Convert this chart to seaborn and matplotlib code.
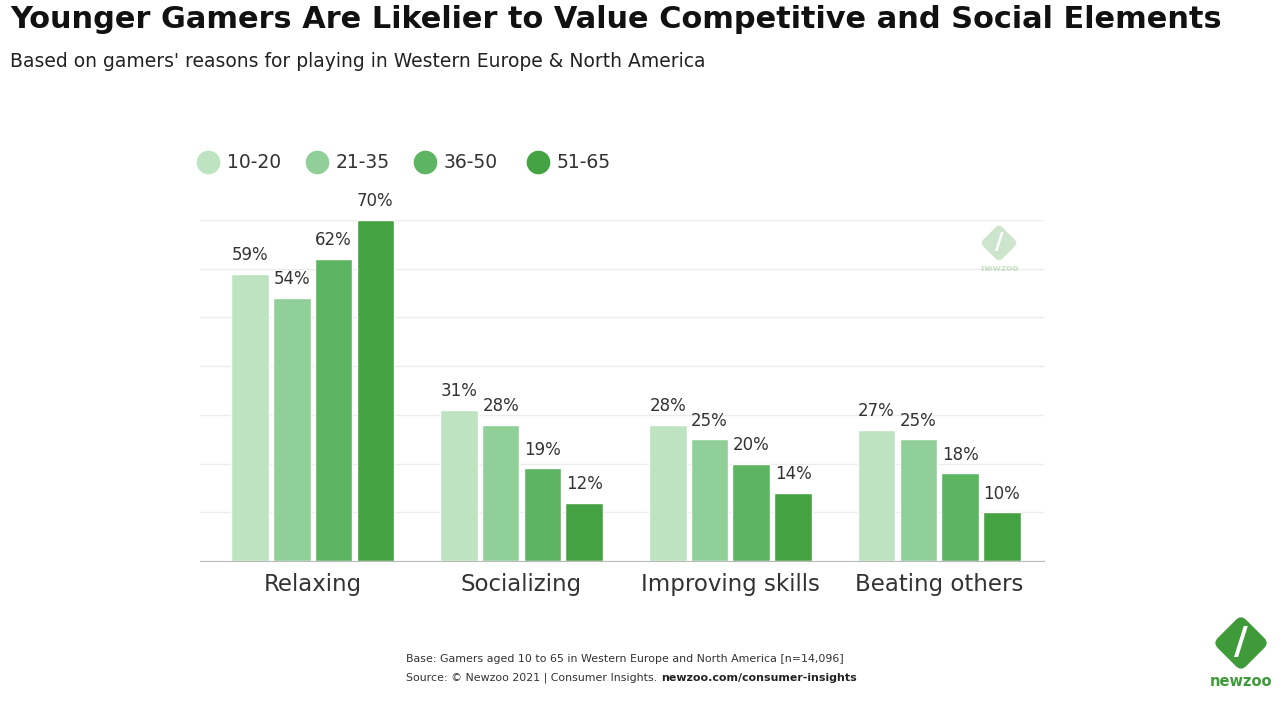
import matplotlib
matplotlib.use("Agg")
import matplotlib.pyplot as plt
from matplotlib.lines import Line2D
from matplotlib.patches import FancyBboxPatch
import matplotlib.transforms as mtransforms
import pandas as pd
import seaborn as sns

# data
categories = ["Relaxing", "Socializing", "Improving skills", "Beating others"]
age_groups = ["10-20", "21-35", "36-50", "51-65"]
v_10_20 = [59, 31, 28, 27]
v_21_35 = [54, 28, 25, 25]
v_36_50 = [62, 19, 20, 18]
v_51_65 = [70, 12, 14, 10]
colors = ["#bde3c1", "#90d098", "#5db564", "#45a243"]

rows = []
for grp, vals in zip(age_groups, [v_10_20, v_21_35, v_36_50, v_51_65]):
    for cat, v in zip(categories, vals):
        rows.append({"reason": cat, "age": grp, "share": v})
df = pd.DataFrame(rows)

sns.set_style("white")
plt.rcParams["font.family"] = ["DejaVu Sans"]

W, H = 1286, 712
fig = plt.figure(figsize=(W / 100, H / 100), dpi=100)
ax = fig.add_axes([0.1555, 0.212, 0.656, 0.479])

sns.barplot(data=df, x="reason", y="share", hue="age", order=categories,
            hue_order=age_groups, palette=colors, width=0.8, gap=0.1,
            saturation=1, ax=ax, legend=False)

for cont in ax.containers:
    ax.bar_label(cont, labels=[f"{int(v)}%" for v in cont.datavalues],
                 padding=7, fontsize=12, color="#333333", clip_on=False)

ax.set_ylim(0, 70)
ax.set_xlim(-0.54, 3.5)
ax.set_yticks(range(0, 71, 10))
ax.yaxis.grid(True, color="#ececec", linewidth=1)
ax.set_axisbelow(True)
ax.tick_params(axis="y", left=False, labelleft=False)
ax.tick_params(axis="x", bottom=False, labelsize=16.5, labelcolor="#333333", pad=5)
ax.set_xlabel("")
ax.set_ylabel("")
for side in ["top", "right", "left"]:
    ax.spines[side].set_visible(False)
ax.spines["bottom"].set_color("#bbbbbb")

# legend: round markers drawn on the figure
legend_x = [208, 317, 425, 538]
legend_y = 1 - 162 / H
for x, c, lab in zip(legend_x, colors, age_groups):
    fig.add_artist(Line2D([x / W], [legend_y], marker="o", linestyle="",
                          markersize=16, markerfacecolor=c, markeredgecolor=c,
                          transform=fig.transFigure))
    fig.text((x + 19) / W, legend_y, lab, fontsize=13.5, color="#333333",
             va="center", ha="left")

fig.text(0.008, 0.973, "Younger Gamers Are Likelier to Value Competitive and Social Elements",
         fontsize=21.9, fontweight="bold", color="#111111", va="center", ha="left")
fig.text(0.008, 0.913, "Based on gamers' reasons for playing in Western Europe & North America",
         fontsize=13.5, color="#222222", va="center", ha="left")

fig.text(0.316, 0.074, "Base: Gamers aged 10 to 65 in Western Europe and North America [n=14,096]",
         fontsize=7.9, color="#333333", va="center", ha="left")
src = fig.text(0.316, 0.048, "Source: \u00a9 Newzoo 2021 | Consumer Insights. ",
               fontsize=7.9, color="#333333", va="center", ha="left")
renderer = fig.canvas.get_renderer()
bb = src.get_window_extent(renderer)
fig.text(bb.x1 / W, 0.048, "newzoo.com/consumer-insights",
         fontsize=7.9, color="#222222", fontweight="bold", va="center", ha="left")


def draw_logo(cx, cy, size_px, alpha, label_size, label_dy):
    # rounded diamond with a white stripe
    box = FancyBboxPatch((cx * W - size_px / 2, cy * H - size_px / 2), size_px, size_px,
                         boxstyle=f"round,pad=0,rounding_size={size_px * 0.18}",
                         facecolor="#3f9a3a", edgecolor="none", alpha=alpha)
    box.set_transform(mtransforms.Affine2D().rotate_deg_around(cx * W, cy * H, 45))
    fig.patches.append(box)
    fig.text(cx, cy - label_dy, "newzoo", fontsize=label_size, fontweight="bold",
             color="#3f9a3a", alpha=alpha, ha="center", va="center")
    fig.text(cx, cy, "/", fontsize=label_size * 2.6, fontweight="bold",
             color="white", ha="center", va="center")


draw_logo(1241 / W, 1 - 643 / H, 40, 1.0, 10.5, 38 / H)
draw_logo(999 / W, 1 - 243 / H, 27, 0.25, 6.5, 26 / H)

fig.savefig("out.png", dpi=100, facecolor="white")
